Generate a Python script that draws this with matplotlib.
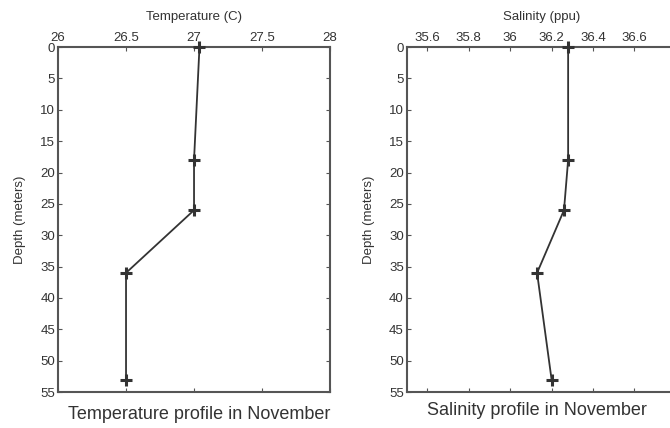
import matplotlib
matplotlib.use("Agg")
import matplotlib.pyplot as plt

depth = [0, 18, 26, 36, 53]
temperature = [27.04, 27.0, 27.0, 26.5, 26.5]
salinity = [36.28, 36.28, 36.26, 36.13, 36.2]

temp_ticks = [26, 26.5, 27, 27.5, 28]
temp_labels = ["26", "26.5", "27", "27.5", "28"]
sal_ticks = [35.6, 35.8, 36, 36.2, 36.4, 36.6]
sal_labels = ["35.6", "35.8", "36", "36.2", "36.4", "36.6"]
depth_ticks = list(range(0, 56, 5))

plt.rcParams['font.family'] = ['Liberation Sans', 'DejaVu Sans']

LINE = "#333333"
SPINE = "#555555"


def style_axes(ax, xvals, xticks, xlabels, xlim, title):
    ax.plot(xvals, depth, color=LINE, lw=1.3, marker='+',
            markersize=9, markeredgewidth=2.2, clip_on=False, zorder=5)
    ax.set_xlim(*xlim)
    ax.set_ylim(55, 0)
    ax.set_xticks(xticks)
    ax.set_xticklabels(xlabels)
    ax.set_yticks(depth_ticks)
    ax.xaxis.tick_top()
    ax.xaxis.set_label_position('top')
    ax.tick_params(direction='in', length=3, width=0.8, colors=SPINE,
                   labelcolor="#333333", labelsize=9.5, pad=2,
                   top=True, bottom=True, left=True, right=True)
    for s in ax.spines.values():
        s.set_color(SPINE)
        s.set_linewidth(1.5)
    ax.set_xlabel(title, fontsize=9.5, color="#333333", labelpad=9)
    ax.set_ylabel("Depth (meters)", fontsize=9.5, color="#333333", labelpad=10)


fig = plt.figure(figsize=(6.7, 4.28), dpi=100)
ax1 = fig.add_axes([0.0866, 0.084, 0.406, 0.806])
ax2 = fig.add_axes([0.607, 0.084, 0.4016, 0.806])

style_axes(ax1, temperature, temp_ticks, temp_labels, (26, 28), "Temperature (C)")
style_axes(ax2, salinity, sal_ticks, sal_labels, (35.5, 36.8), "Salinity (ppu)")

fig.text(0.297, 0.032, "Temperature profile in November", ha='center',
         va='center', fontsize=13, color="#333333")
fig.text(0.802, 0.04, "Salinity profile in November", ha='center',
         va='center', fontsize=13, color="#333333")

fig.savefig("out.png", dpi=100)
